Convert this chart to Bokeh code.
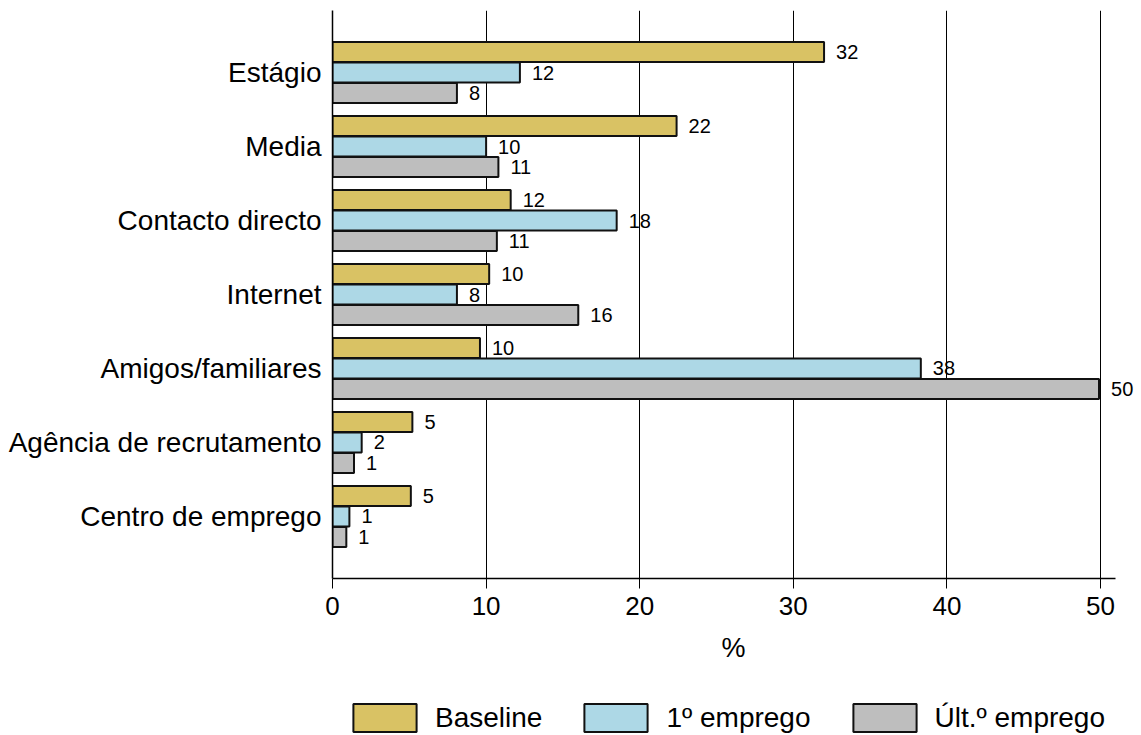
from bokeh.plotting import figure
from bokeh.layouts import column
from bokeh.models import Range1d, ColumnDataSource, Legend, LegendItem, FixedTicker
from bokeh.core.properties import value
from bokeh.embed import file_html
from bokeh.resources import INLINE

# Channels used to find a job, top to bottom
categories = [
    "Estágio",
    "Media",
    "Contacto directo",
    "Internet",
    "Amigos/familiares",
    "Agência de recrutamento",
    "Centro de emprego",
]
series_names = ["Baseline", "1º emprego", "Últ.º emprego"]
baseline = [32.0, 22.4, 11.6, 10.2, 9.6, 5.2, 5.1]
primeiro = [12.2, 10.0, 18.5, 8.1, 38.3, 1.9, 1.1]
ultimo = [8.1, 10.8, 10.7, 16.0, 49.9, 1.4, 0.9]
x_ticks = [0, 10, 20, 30, 40, 50]

colors = ["#D9C264", "#ADD8E6", "#BEBEBE"]
offsets = [0.277, 0.0, -0.277]
bar_h = 0.27
FONT = "Liberation Sans"

n = len(categories)
positions = [n - 1 - i for i in range(n)]

W = 1141
MAIN_H = 680
LEG_H = 55

p = figure(
    width=W, height=MAIN_H,
    output_backend="svg", toolbar_location=None,
    x_range=Range1d(0, 52.21), y_range=Range1d(-0.838, n - 1 + 0.838),
    min_border_left=332, min_border_right=7,
    min_border_top=10, min_border_bottom=MAIN_H - 578,
)
p.outline_line_color = None
p.background_fill_color = "white"
p.border_fill_color = "white"

sources = []
for name, vals, col, off in zip(series_names, [baseline, primeiro, ultimo], colors, offsets):
    src = ColumnDataSource(dict(
        y=[pos + off for pos in positions],
        v=vals,
        lbl=[f"{v:.0f}" for v in vals],
    ))
    sources.append(src)
    p.hbar(y="y", left=0, right="v", height=bar_h, source=src,
           fill_color=col, line_color="#111111", line_width=2)
    p.text(x="v", y="y", text="lbl", source=src, x_offset=12,
           text_align="left", text_baseline="middle",
           text_font=value(FONT), text_font_size="20px", text_color="black")

# x axis (line stops just past 51)
p.xaxis.ticker = FixedTicker(ticks=x_ticks)
p.xaxis.bounds = (0, 51)
p.xaxis.axis_label = "%"
p.xaxis.axis_label_text_font = FONT
p.xaxis.axis_label_text_font_style = "normal"
p.xaxis.axis_label_text_font_size = "27px"
p.xaxis.axis_label_text_color = "black"
p.xaxis.axis_label_standoff = 15
p.xaxis.major_label_text_font = FONT
p.xaxis.major_label_text_font_size = "26px"
p.xaxis.major_label_text_color = "black"
p.xaxis.major_label_standoff = 8
p.xaxis.major_tick_out = 10
p.xaxis.major_tick_in = 0
p.xaxis.major_tick_line_color = "black"
p.xaxis.minor_tick_line_color = None
p.xaxis.axis_line_color = "black"
p.xaxis.axis_line_width = 1.5

# y axis with category names
p.yaxis.ticker = FixedTicker(ticks=positions)
p.yaxis.major_label_overrides = {pos: c for pos, c in zip(positions, categories)}
p.yaxis.major_label_text_font = FONT
p.yaxis.major_label_text_font_size = "28px"
p.yaxis.major_label_text_color = "black"
p.yaxis.major_label_standoff = 11
p.yaxis.major_tick_out = 0
p.yaxis.major_tick_in = 0
p.yaxis.minor_tick_line_color = None
p.yaxis.axis_line_color = "black"
p.yaxis.axis_line_width = 1.5

p.xgrid.grid_line_color = "black"
p.xgrid.grid_line_width = 1
p.ygrid.grid_line_color = None

# legend strip under the chart; its swatches come from hidden copies of the bars
leg = figure(
    width=W, height=LEG_H,
    output_backend="svg", toolbar_location=None,
    x_axis_type=None, y_axis_type=None,
    x_range=Range1d(0, 1), y_range=Range1d(0, 1),
    min_border=0,
)
leg.outline_line_color = None
leg.xgrid.grid_line_color = None
leg.ygrid.grid_line_color = None
swatches = []
for name, col, src in zip(series_names, colors, sources):
    r = leg.hbar(y="y", left=0, right="v", height=bar_h, source=src,
                 fill_color=col, line_color="#111111", line_width=2)
    r.visible = False
    swatches.append(LegendItem(label=name, renderers=[r]))

legend = Legend(
    items=swatches,
    location=(13, 0), orientation="horizontal",
    border_line_color=None, background_fill_alpha=0,
    padding=0, margin=0, spacing=34,
    glyph_width=79, glyph_height=35, label_standoff=11,
    label_text_font=FONT, label_text_font_size="28px", label_text_color="black",
)
leg.add_layout(legend)

open("out.html", "w").write(file_html(column(p, leg, spacing=0), INLINE))
